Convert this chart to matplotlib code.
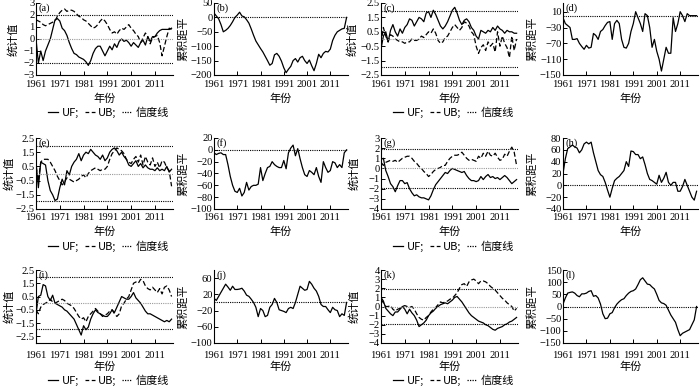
import matplotlib
matplotlib.use("Agg")
import matplotlib.pyplot as plt
from matplotlib.lines import Line2D

plt.rcParams['font.family'] = ['Liberation Serif', 'Noto Sans CJK SC', 'DejaVu Sans']
plt.rcParams['axes.unicode_minus'] = True

years = list(range(1961, 2019))
xticks = [1961, 1971, 1981, 1991, 2001, 2011]

# (a)
a_uf = [0.0, -2.0, -1.0, -1.8, -1.0, -0.5, 0.0, 0.8, 1.6, 1.7, 1.5, 0.9, 0.7, 0.3, -0.3, -0.8, -1.2, -1.3, -1.5, -1.6,
        -1.7, -1.9, -2.2, -1.8, -1.2, -0.8, -0.6, -0.6, -1.0, -1.4, -1.0, -0.6, -0.9, -0.4, -0.7, -0.2, 0.0, -0.2, -0.1, -0.3,
        -0.6, -0.3, -0.5, -0.7, -0.3, -0.1, -0.5, 0.2, -0.2, 0.2, 0.2, 0.5, 0.7, 0.8, 0.8, 0.8, 0.8, 0.9]
a_ub = [1.6, 1.5, 1.4, 1.2, 1.1, 1.2, 1.3, 1.4, 1.5, 1.9, 2.2, 2.4, 2.5, 2.3, 2.4, 2.4, 2.3, 2.1, 1.9, 1.8,
        1.6, 1.5, 1.3, 1.1, 0.9, 1.0, 1.2, 1.5, 1.7, 1.5, 1.2, 0.8, 0.5, 0.6, 0.4, 0.7, 0.9, 0.8, 1.0, 1.2,
        0.9, 0.7, 0.4, 0.2, -0.3, 0.1, 0.5, 0.2, -0.4, 0.1, 0.2, 0.3, -0.3, -1.4, -0.6, 0.2, 0.9, 0.8]
# (b)
b_cum = [15, 5, -5, -25, -50, -45, -38, -28, -15, 0, 8, 18, 5, 2, -8, -20, -40, -62, -82, -95,
         -108, -120, -135, -150, -166, -160, -130, -125, -135, -152, -175, -192, -180, -170, -150, -143, -155, -140, -135, -150,
         -160, -148, -168, -185, -160, -128, -140, -125, -118, -120, -110, -80, -62, -50, -45, -40, -38, 0]
# (c)
c_uf = [-0.7, 0.2, 0.5, -0.2, 0.6, 1.0, 0.5, 0.2, 0.7, 0.4, 0.8, 1.0, 1.4, 1.3, 0.9, 1.2, 1.5, 1.4, 1.2, 1.8,
        1.9, 1.5, 2.0, 1.7, 1.3, 0.9, 0.7, 0.9, 1.2, 1.6, 2.0, 2.2, 1.8, 1.3, 1.0, 1.3, 1.4, 1.2, 0.8, 0.6,
        0.2, 0.0, 0.6, 0.5, 0.4, 0.6, 0.5, 0.8, 0.6, 0.9, 0.7, 0.6, 0.4, 0.6, 0.5, 0.5, 0.4, 0.4]
c_ub = [-0.3, 0.8, 0.2, -0.2, 0.3, 0.2, 0.0, -0.1, -0.2, -0.2, -0.3, -0.2, -0.2, 0.0, -0.1, -0.1, 0.0, 0.2, 0.1, 0.3,
        0.5, 0.4, 0.7, 0.4, -0.1, -0.3, -0.2, 0.1, 0.2, 0.5, 0.8, 1.0, 0.8, 0.6, 0.8, 1.2, 1.1, 0.9, 0.5, 0.3,
        -0.5, -1.0, -0.6, -0.4, -0.8, -0.2, -0.5, -0.3, -0.9, 0.5, -0.5, 0.2, -0.3, -0.6, -1.3, 0.2, -0.8, 0.0]
# (d)
d_cum = [-5, -20, -25, -30, -60, -60, -58, -70, -78, -85, -75, -82, -80, -45, -50, -60, -40, -35, -25, -17,
         -15, -60, -20, -12, -20, -60, -80, -82, -70, -40, -20, 10, -5, -20, -40, 5, 0, -30, -80, -60,
         -90, -110, -140, -110, -80, -95, -95, -5, -40, -20, 10, 0, -15, 5, 0, 0, 0, 0]
# (e)
e_uf = [0.8, -1.0, 0.8, 0.7, 0.6, -0.5, -1.2, -1.5, -1.9, -1.8, -1.0, -0.4, -0.8, 0.2, -0.1, 0.5, 0.8, 1.0, 1.4, 0.9,
        1.3, 1.5, 1.4, 1.7, 1.5, 1.3, 1.2, 1.0, 1.3, 0.9, 1.1, 1.5, 1.7, 1.8, 1.6, 1.3, 1.5, 1.2, 1.0, 0.6,
        0.5, 0.7, 0.9, 0.5, 0.7, 0.4, 0.6, 0.4, 0.3, 0.3, 0.2, 0.4, 0.2, 0.3, 0.2, 0.5, 0.1, 0.3]
e_ub = [0.5, -0.5, 0.8, 1.0, 1.0, 1.0, 0.8, 0.5, 0.2, -0.2, -0.5, -0.8, -0.6, -0.3, -0.4, -0.5, -0.6, -0.5, -0.4, -0.2,
        -0.1, -0.3, 0.0, 0.2, 0.3, 0.4, 0.3, 0.2, 0.3, 0.3, 0.5, 1.0, 1.4, 1.6, 1.8, 1.7, 1.6, 1.4, 1.0, 0.8,
        0.7, 1.0, 1.2, 0.8, 1.3, 0.6, 1.2, 0.8, 0.6, 1.1, 0.5, 0.8, 0.4, 0.9, 0.8, 0.4, 0.2, -0.9]
# (f)
f_cum = [-5, -8, -6, -5, -8, -8, -25, -45, -60, -70, -72, -65, -78, -72, -55, -68, -62, -60, -60, -58,
         -30, -52, -40, -30, -28, -20, -25, -28, -30, -30, -18, -32, -5, 3, 8, -10, 2, -15, -30, -42,
         -45, -35, -38, -42, -30, -45, -55, -20, -30, -38, -35, -20, -22, -30, -25, -30, -5, 0]
# (g)
g_uf = [0.9, 1.0, -0.2, -0.8, -1.5, -1.8, -2.3, -1.7, -1.2, -1.2, -1.5, -1.4, -2.0, -2.4, -2.7, -2.6, -2.8, -2.9, -2.9, -3.0,
        -3.1, -2.7, -2.1, -1.6, -1.3, -1.0, -0.7, -0.4, -0.5, -0.2, 0.0, -0.1, -0.2, -0.3, -0.4, -0.3, -0.7, -1.0, -1.2, -1.2,
        -1.3, -1.2, -0.8, -1.1, -0.8, -0.6, -0.9, -0.8, -1.0, -0.9, -1.1, -0.9, -0.7, -0.9, -1.2, -1.5, -1.3, -1.1]
g_ub = [0.6, 0.3, 0.6, 0.7, 0.8, 0.7, 0.8, 0.6, 0.8, 1.0, 1.1, 1.2, 1.2, 1.0, 0.7, 0.5, 0.2, 0.0, -0.3, -0.5,
        -0.8, -0.6, -0.3, -0.1, 0.0, 0.1, 0.3, 0.3, 0.7, 1.0, 1.2, 1.3, 1.3, 1.4, 1.6, 1.3, 1.0, 0.8, 0.9, 0.8,
        0.7, 1.2, 1.0, 1.5, 1.2, 1.7, 1.3, 1.2, 1.5, 1.1, 0.8, 0.9, 1.4, 1.2, 1.7, 2.1, 1.6, 0.3]
# (h)
h_cum = [20, 45, 62, 65, 68, 65, 63, 55, 60, 70, 73, 70, 73, 55, 40, 25, 18, 15, 5, -8,
         -20, -5, 8, 12, 15, 20, 25, 40, 32, 58, 57, 52, 52, 45, 48, 35, 20, 10, 8, 5,
         2, 17, 5, 12, 22, 5, 0, 5, 5, -10, -10, -2, 10, 0, -10, -20, -25, -10]
# (i)
i_uf = [-0.8, 0.5, 0.6, 1.4, 1.3, 0.5, 0.2, 0.6, 0.0, -0.1, -0.2, -0.3, -0.5, -0.6, -0.8, -1.0, -1.2, -1.6, -2.0, -2.4,
        -1.7, -2.0, -1.8, -1.2, -0.8, -0.5, -0.7, -0.8, -0.9, -1.0, -1.0, -0.8, -0.5, -0.7, -0.3, 0.1, 0.5, 0.4, 0.3, 0.3,
        0.5, 0.8, 0.4, 0.2, 0.0, -0.3, -0.6, -0.8, -0.8, -0.9, -1.0, -1.1, -1.2, -1.3, -1.4, -1.3, -1.4, -1.2]
i_ub = [-0.5, -0.8, -0.3, -0.1, 0.0, 0.1, 0.3, 0.1, 0.0, 0.1, 0.2, 0.3, 0.2, 0.0, -0.1, -0.2, -0.4, -0.7, -1.0, -1.2,
        -1.1, -1.4, -1.0, -0.8, -0.6, -0.4, -0.6, -0.8, -1.0, -0.9, -0.8, -0.6, -0.5, -0.8, -1.0, -0.8, -0.2, 0.0, 0.3, 0.5,
        1.0, 1.5, 1.6, 1.5, 1.8, 1.7, 1.3, 1.1, 1.0, 1.2, 1.0, 0.8, 1.1, 0.7, 1.2, 1.3, 1.0, 0.5]
# (j)
j_cum = [10, 5, 15, 25, 35, 45, 38, 30, 40, 32, 32, 33, 35, 28, 18, 15, 8, 0, -12, -35,
         -15, -20, -35, -32, -12, -5, 10, 0, -18, -20, -22, -25, -15, -12, -15, 0, 20, 40, 35, 30,
         32, 52, 45, 35, 28, 15, -5, -10, -10, -18, -25, -12, -18, -20, -35, -28, -32, 0]
# (k)
k_uf = [1.0, 0.6, -0.2, -0.5, -0.8, -1.0, -0.6, -0.6, -0.3, 0.0, -0.3, -0.8, -0.3, -0.7, -1.0, -1.5, -2.2, -2.0, -1.8, -1.5,
        -1.0, -0.7, -0.5, -0.2, 0.0, 0.2, 0.3, 0.4, 0.3, 0.5, 0.7, 1.0, 1.1, 0.8, 0.5, 0.1, -0.3, -0.7, -1.0, -1.2,
        -1.4, -1.6, -1.7, -1.8, -2.0, -2.1, -2.3, -2.5, -2.6, -2.4, -2.3, -2.2, -2.0, -1.9, -1.7, -1.6, -1.4, -1.2]
k_ub = [0.8, 0.4, 0.0, 0.0, 0.1, -0.3, -0.5, -0.3, -0.2, 0.0, 0.1, 0.0, -0.1, 0.0, -0.3, -0.8, -1.2, -1.4, -1.5, -1.2,
        -1.0, -0.6, -0.3, -0.1, 0.2, 0.5, 0.4, 0.5, 0.6, 0.8, 0.9, 1.2, 1.5, 2.0, 2.4, 2.5, 2.2, 2.7, 2.9, 3.0,
        2.8, 2.5, 2.8, 2.8, 2.7, 2.5, 2.2, 2.0, 1.8, 1.5, 1.2, 0.9, 0.7, 0.4, 0.2, 0.0, -0.5, -0.2]
# (l)
l_cum = [10, 35, 55, 58, 60, 55, 45, 40, 52, 52, 55, 62, 65, 42, 45, 35, 10, -30, -50, -48,
         -30, -25, -5, 10, 20, 28, 32, 45, 55, 62, 65, 72, 90, 110, 118, 105, 92, 90, 80, 72,
         50, 25, 15, 12, 5, -15, -35, -50, -65, -95, -120, -110, -105, -100, -95, -75, -55, 0]

W, H = 700, 387
fig = plt.figure(figsize=(7.0, 3.87), dpi=100)

cols = [(36, 173), (214, 348), (381, 518), (563, 698)]
rows = [(3, 75), (138, 209), (270, 343)]
tick_pad = [3.5, 3.0, 5.5]
lab_off = [99, 232, 367]
leg_off = [113, 247, 381]
ylab_x = [[13, 183, 352, 532], [9, 183, 354, 532], [9, 183, 354, 532]]

FS = 7.6
CFS = 8.0
CJK = ['Noto Sans CJK SC', 'DejaVu Sans']


def make_ax(r, c):
    l, rr = cols[c]
    t, b = rows[r]
    ax = fig.add_axes([l / W, 1 - b / H, (rr - l) / W, (b - t) / H])
    ax.spines['top'].set_visible(False)
    ax.spines['right'].set_visible(False)
    for s in ('left', 'bottom'):
        ax.spines[s].set_linewidth(0.8)
    ax.set_xlim(1961, 2018.6)
    ax.set_xticks(xticks)
    ax.set_xticklabels([str(x) for x in xticks])
    ax.tick_params(direction='in', length=3, width=0.7, labelsize=FS, pad=tick_pad[r])
    ax.tick_params(axis='y', pad=1.0)
    ax.text(1962.0, 1.0, '(' + 'abcdefghijkl'[r * 4 + c] + ')', transform=ax.get_xaxis_transform(),
            fontsize=FS, va='top', ha='left')
    fig.text(((l + rr) / 2) / W, 1 - lab_off[r] / H, '年份', family=CJK, fontsize=CFS,
             ha='center', va='center')
    return ax


def mk_panel(r, c, uf, ub, ylim, yticks):
    ax = make_ax(r, c)
    ax.plot(years, uf, color='black', lw=0.9, ls='-')
    ax.plot(years, ub, color='black', lw=0.9, ls=(0, (4, 2)))
    ax.axhline(1.96, color='black', lw=0.8, ls=(0, (1, 1)))
    ax.axhline(-1.96, color='black', lw=0.8, ls=(0, (1, 1)))
    ax.axhline(0, color='#999999', lw=0.8, ls=(0, (1, 1)))
    ax.set_ylim(*ylim)
    ax.set_yticks(yticks)
    ax.set_yticklabels([('%g' % v).replace('-', '\u2212') for v in yticks])
    fig.text(ylab_x[r][c] / W, 1 - ((rows[r][0] + rows[r][1]) / 2) / H, '统计值', family=CJK,
             fontsize=CFS, rotation=90, ha='center', va='center')
    handles = [Line2D([], [], color='black', lw=0.9, ls='-'),
               Line2D([], [], color='black', lw=0.9, ls=(0, (3, 2))),
               Line2D([], [], color='black', lw=0.9, ls=(0, (1, 1)))]
    l, rr = cols[c]
    fig.legend(handles, ['UF;', 'UB;', '信度线'], loc='center',
               bbox_to_anchor=(((l + rr) / 2 + 4) / W, 1 - leg_off[r] / H), ncol=3, frameon=False,
               handlelength=0.9, handletextpad=0.3, columnspacing=0.5, borderpad=0,
               prop={'family': CJK, 'size': CFS})
    return ax


def cum_panel(r, c, vals, ylim, yticks):
    ax = make_ax(r, c)
    ax.plot(years, vals, color='black', lw=0.9)
    ax.axhline(0, color='black', lw=0.8, ls=(0, (1, 1)))
    ax.set_ylim(*ylim)
    ax.set_yticks(yticks)
    ax.set_yticklabels([('%g' % v).replace('-', '\u2212') for v in yticks])
    fig.text(ylab_x[r][c] / W, 1 - ((rows[r][0] + rows[r][1]) / 2) / H, '累积距平', family=CJK,
             fontsize=CFS, rotation=90, ha='center', va='center')
    return ax


mk_panel(0, 0, a_uf, a_ub, (-3, 3), [3, 2, 1, 0, -1, -2, -3])
cum_panel(0, 1, b_cum, (-200, 50), [50, 0, -50, -100, -150, -200])
mk_panel(0, 2, c_uf, c_ub, (-2.5, 2.5), [2.5, 1.5, 0.5, -0.5, -1.5, -2.5])
cum_panel(0, 3, d_cum, (-150, 32), [10, -30, -70, -110, -150])

mk_panel(1, 0, e_uf, e_ub, (-2.5, 2.5), [2.5, 1.5, 0.5, -0.5, -1.5, -2.5])
cum_panel(1, 1, f_cum, (-100, 20), [20, 0, -20, -40, -60, -80, -100])
mk_panel(1, 2, g_uf, g_ub, (-4, 3), [3, 2, 1, 0, -1, -2, -3, -4])
cum_panel(1, 3, h_cum, (-40, 80), [80, 60, 40, 20, 0, -20, -40])

mk_panel(2, 0, i_uf, i_ub, (-3, 2.5), [2.5, 1.5, 0.5, -0.5, -1.5, -2.5])
cum_panel(2, 1, j_cum, (-100, 80), [60, 20, -20, -60, -100])
mk_panel(2, 2, k_uf, k_ub, (-4, 4), [4, 3, 2, 1, 0, -1, -2, -3, -4])
cum_panel(2, 3, l_cum, (-150, 150), [150, 100, 50, 0, -50, -100, -150])

fig.savefig('out.png', dpi=100)
